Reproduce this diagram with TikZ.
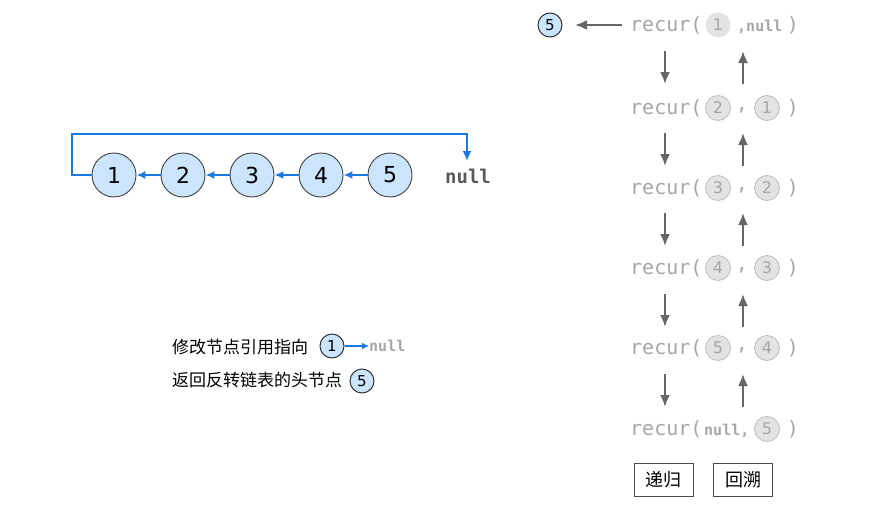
\documentclass[tikz,border=0pt]{standalone}
\usepackage{fontspec}
\setmainfont{DejaVu Sans}
\setmonofont{DejaVu Sans Mono}
\newfontfamily\cjk{Noto Sans CJK SC}
\usetikzlibrary{arrows.meta}
\definecolor{nodeblue}{HTML}{CCE5FF}
\definecolor{linkblue}{HTML}{1B7AE0}
\definecolor{recgray}{HTML}{A6A6A6}
\definecolor{arrgray}{HTML}{666666}
\definecolor{circgray}{HTML}{E3E3E3}
\definecolor{circline}{HTML}{BDBDBD}
\tikzset{
  bignode/.style={circle,draw=black!75,fill=nodeblue,line width=0.9pt,minimum size=44pt,inner sep=0pt,font=\fontsize{22}{22}\selectfont},
  smallnode/.style={circle,draw=black!80,fill=nodeblue,line width=1pt,minimum size=24pt,inner sep=0pt,font=\fontsize{15}{15}\selectfont},
  graynode/.style={circle,draw=circline,fill=circgray,line width=0.8pt,minimum size=25pt,inner sep=0pt,text=recgray,font=\fontsize{16}{16}\selectfont},
  link/.style={draw=linkblue,line width=1.8pt,-{Latex[length=9pt,width=8pt]}},
  garrow/.style={draw=arrgray,line width=2.2pt,-{Latex[length=12pt,width=10pt]}},
  rectext/.style={inner sep=0pt,text=recgray,font=\ttfamily\fontsize{20}{20}\selectfont},
  nulltext/.style={inner sep=0pt,font=\ttfamily\bfseries\fontsize{15}{15}\selectfont},
  labelbox/.style={draw=black!70,line width=0.8pt,minimum width=59pt,minimum height=33pt,inner sep=0pt,font=\cjk\fontsize{18}{18}\selectfont},
  legend/.style={inner sep=0pt,anchor=west,font=\cjk\fontsize{17}{17}\selectfont}
}
\begin{document}
\begin{tikzpicture}[x=1pt,y=-1pt]
\useasboundingbox (0,0) rectangle (873,506);
% linked list
\node[bignode] (n1) at (114,175) {1};
\node[bignode] (n2) at (183,175) {2};
\node[bignode] (n3) at (252,175) {3};
\node[bignode] (n4) at (321,175) {4};
\node[bignode] (n5) at (390,175) {5};
\node[inner sep=0pt,text=black!65,font=\ttfamily\bfseries\fontsize{19}{19}\selectfont] (nul) at (468,176) {null};
\draw[link] (n2) -- (n1);
\draw[link] (n3) -- (n2);
\draw[link] (n4) -- (n3);
\draw[link] (n5) -- (n4);
\coordinate (tipnull) at (467,161);
\draw[link,-{Latex[length=10pt,width=9pt]}] (n1.west) -- (72,175) -- (72,134) -- (467,134) -- (tipnull);
% legend
\node[legend] (l1) at (172,347) {修改节点引用指向};
\node[smallnode] (lc1) at (332,346) {1};
\node[nulltext,text=recgray,anchor=west] (lnull) at (369,346) {null};
\draw[draw=linkblue,line width=1.5pt,-{Latex[length=7pt,width=7pt]}] (lc1) -- (lnull);
\node[legend] (l2) at (172,380) {返回反转链表的头节点};
\node[smallnode] (lc5) at (362,381) {5};
% recursion column
\node[smallnode] (res) at (550,25) {5};
% row 1
\node[rectext,anchor=west] (r1) at (630,25) {recur(};
\node[graynode,draw=none] (r1a) at (718,25) {1};
\node[nulltext,text=recgray,anchor=west] (r1b) at (737,27) {,null};
\node[rectext] (r1c) at (793,25) {)};
\coordinate (r1w) at (622,25);
\draw[garrow] (r1w) -- (575,25);
% rows 2..5
\foreach \i/\a/\b/\y in {2/2/1/108,3/3/2/188,4/4/3/268,5/5/4/348}{
  \node[rectext,anchor=west] (r\i) at (630,\y) {recur(};
  \node[graynode] (r\i a) at (718,\y) {\a};
  \node[rectext] (r\i m) at (742,\y+2) {,};
  \node[graynode] (r\i b) at (767,\y) {\b};
  \node[rectext] (r\i c) at (793,\y) {)};
}
% row 6
\node[rectext,anchor=west] (r6) at (630,429) {recur(};
\node[nulltext,text=recgray,anchor=west] (r6a) at (704,431) {null,};
\node[graynode] (r6b) at (767,429) {5};
\node[rectext] (r6c) at (793,429) {)};
% vertical arrows
\foreach \y in {25,107,187,268,348}{
  \coordinate (dtop\y) at (665,\y+26);
  \coordinate (dbot\y) at (665,\y+59);
  \coordinate (utop\y) at (743,\y+26);
  \coordinate (ubot\y) at (743,\y+59);
  \draw[garrow] (dtop\y) -- (dbot\y);
  \draw[garrow] (ubot\y) -- (utop\y);
}
% boxes
\node[labelbox] (b1) at (663.5,479.5) {递归};
\node[labelbox] (b2) at (743,479.5) {回溯};
\end{tikzpicture}
\end{document}
